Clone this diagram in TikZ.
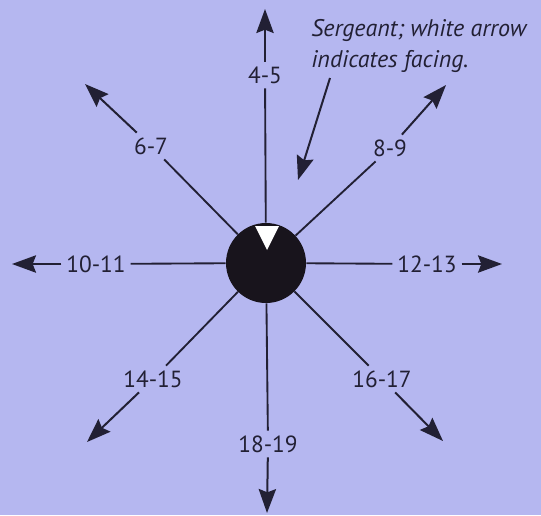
\documentclass[tikz,border=0pt]{standalone}
\usepackage{fontspec}
\setmainfont{PT Sans}
\usetikzlibrary{arrows.meta,positioning}
\definecolor{pagelilac}{RGB}{181,183,240}
\definecolor{inkdark}{RGB}{34,32,52}
\definecolor{discblack}{RGB}{24,20,28}
\tikzset{
    sgtdisc/.style={circle, fill=discblack, minimum size=60pt, inner sep=0pt},
    rangelabel/.style={font=\fontsize{17.5}{20}\selectfont, text=inkdark, inner sep=3.5pt},
    leg/.style={line width=1.4pt, inkdark},
    legarrow/.style={line width=1.5pt, inkdark, -{Stealth[length=18pt,width=13pt,inset=2.5pt]}},
    calloutnote/.style={font=\itshape\fontsize{18}{23}\selectfont, text=inkdark, align=left, inner sep=0pt},
}
\begin{document}
\begin{tikzpicture}[x=0.75pt,y=-0.75pt]
    \fill[pagelilac] (0,0) rectangle (541,515);
    \useasboundingbox (0,0) rectangle (541,515);
    % the sergeant and its facing mark
    \node[sgtdisc] (sgt) at (266,263) {};
    \fill[white] (255,226) -- (279,226) -- (267,250) -- cycle;
    % range labels
    \node[rangelabel] (l45) at (265,75) {4-5};
    \node[rangelabel] (l67) at (151,146) {6-7};
    \node[rangelabel] (l89) at (390,148) {8-9};
    \node[rangelabel] (l1011) at (96,264) {10-11};
    \node[rangelabel] (l1213) at (427,264) {12-13};
    \node[rangelabel] (l1415) at (153,379) {14-15};
    \node[rangelabel] (l1617) at (382,379) {16-17};
    \node[rangelabel] (l1819) at (268,444) {18-19};
    % arrow tips
    \coordinate (t45) at (265,9);
    \coordinate (t67) at (85,84);
    \coordinate (t89) at (446,85);
    \coordinate (t1011) at (12,264);
    \coordinate (t1213) at (502,264);
    \coordinate (t1415) at (87,442);
    \coordinate (t1617) at (443,441);
    \coordinate (t1819) at (267,513);
    \foreach \n in {45,67,89,1011,1213,1415,1617,1819} {
        \draw[leg] (sgt) -- (l\n);
        \draw[legarrow] (l\n) -- (t\n);
    }
    % callout
    \node[calloutnote, anchor=north west] (note) at (311,19) {Sergeant; white arrow\\indicates facing.};
    \coordinate (notefoot) at (330,78);
    \coordinate (facetip) at (298,180);
    \draw[legarrow] (notefoot) -- (facetip);
\end{tikzpicture}
\end{document}
